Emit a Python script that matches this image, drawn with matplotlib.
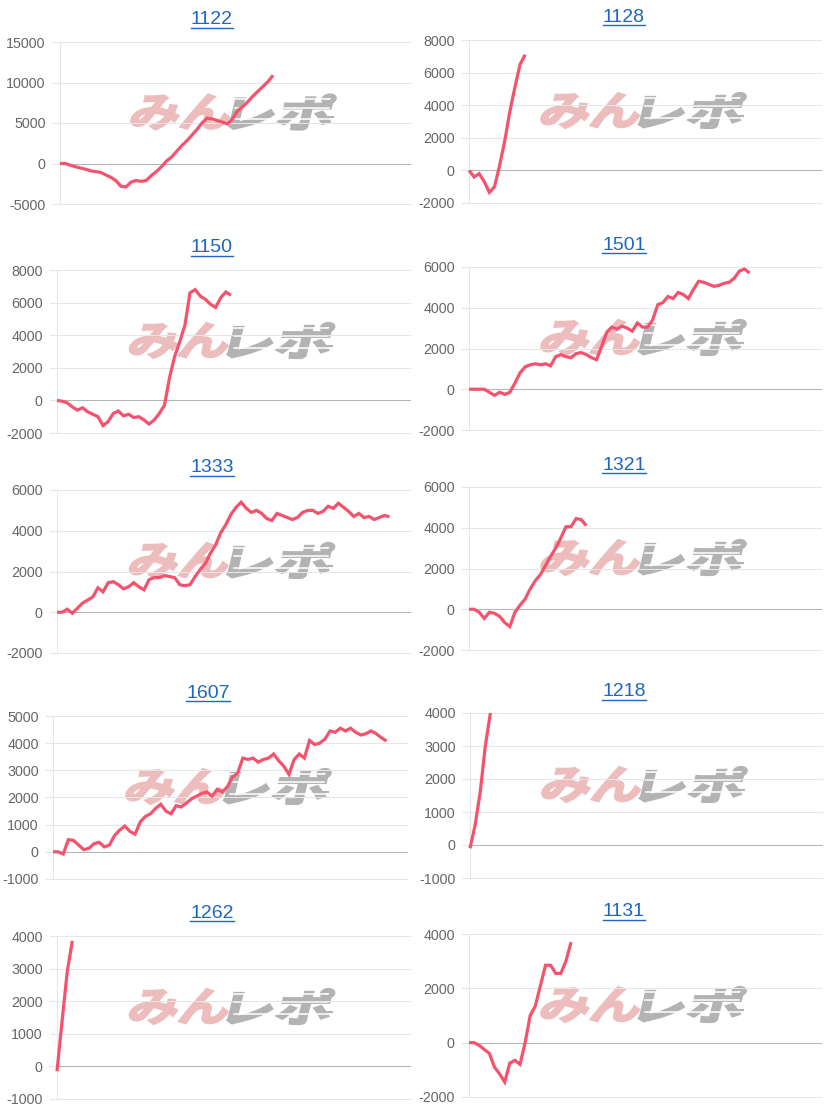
import numpy as np
import matplotlib
matplotlib.use("Agg")
import matplotlib.pyplot as plt
from matplotlib.textpath import TextPath
from matplotlib.font_manager import FontProperties
from matplotlib.patches import PathPatch
from matplotlib.transforms import Affine2D, IdentityTransform
from matplotlib.lines import Line2D

W, H = 824, 1115
N_SLOTS = 70   # shared x axis (category slots), every chart uses the same width

# ── Data (balance per slot) ──────────────────────────────────────────────────
titles = ['1122', '1128', '1150', '1501', '1333', '1321', '1607', '1218', '1262', '1131']

s1122 = [0, 0, -200, -400, -550, -700, -900, -1000, -1100, -1400,
         -1700, -2100, -2800, -2900, -2300, -2100, -2200, -2100, -1500, -1000,
         -400, 300, 800, 1500, 2200, 2800, 3500, 4200, 5000, 5600,
         5500, 5300, 5100, 4900, 5500, 6500, 7000, 7600, 8300, 8900,
         9500, 10100, 10900]
s1128 = [0, -400, -200, -700, -1350, -1000, 300, 1800, 3600, 5100, 6500, 7100]
s1150 = [0, -50, -150, -400, -600, -450, -700, -850, -1000, -1550,
         -1300, -800, -650, -950, -850, -1050, -1000, -1200, -1450, -1200,
         -800, -300, 1400, 2700, 3600, 4600, 6600, 6800, 6400, 6200,
         5900, 5700, 6300, 6650, 6450]
s1501 = [0, 0, 0, 0, -150, -300, -150, -250, -150, 300,
         800, 1100, 1200, 1250, 1200, 1250, 1150, 1600, 1700, 1600,
         1550, 1750, 1800, 1700, 1550, 1450, 2100, 2800, 3050, 2950,
         3100, 3000, 2850, 3250, 3050, 3050, 3400, 4150, 4250, 4550,
         4450, 4750, 4650, 4450, 4900, 5300, 5250, 5150, 5050, 5100,
         5200, 5250, 5450, 5800, 5900, 5700]
s1333 = [0, 0, 150, -50, 200, 450, 600, 750, 1200, 1000,
         1450, 1500, 1350, 1150, 1250, 1450, 1250, 1100, 1600, 1700,
         1700, 1800, 1750, 1700, 1350, 1300, 1350, 1750, 2100, 2400,
         2900, 3300, 3900, 4300, 4800, 5150, 5400, 5100, 4900, 5000,
         4850, 4600, 4500, 4850, 4750, 4650, 4550, 4650, 4900, 5000,
         5000, 4850, 4950, 5200, 5100, 5350, 5150, 4950, 4700, 4850,
         4650, 4700, 4550, 4650, 4750, 4680]
s1321 = [0, 0, -150, -450, -150, -200, -350, -650, -850, -150,
         200, 500, 1000, 1400, 1700, 2150, 2600, 3000, 3500, 4050,
         4050, 4450, 4400, 4100]
s1607 = [0, 0, -80, 450, 420, 250, 80, 130, 300, 350,
         180, 250, 600, 800, 950, 750, 650, 1100, 1300, 1400,
         1600, 1750, 1500, 1400, 1700, 1650, 1800, 1950, 2050, 2150,
         2200, 2050, 2300, 2200, 2400, 2750, 2900, 3450, 3400, 3450,
         3300, 3400, 3450, 3600, 3350, 3150, 2850, 3400, 3600, 3450,
         4100, 3950, 4000, 4150, 4450, 4400, 4550, 4450, 4550, 4400,
         4300, 4350, 4450, 4350, 4200, 4080]
s1218 = [-100, 600, 1600, 3000, 4000]
s1262 = [-150, 1400, 2900, 3850]
s1131 = [0, 0, -100, -250, -400, -900, -1150, -1450, -750, -650,
         -800, 0, 1000, 1350, 2100, 2850, 2850, 2550, 2550, 3000, 3700]

series = [s1122, s1128, s1150, s1501, s1333, s1321, s1607, s1218, s1262, s1131]

# y axis: (min, max, step)
y_ranges = [(-5000, 15000, 5000), (-2000, 8000, 2000), (-2000, 8000, 2000),
            (-2000, 6000, 2000), (-2000, 6000, 2000), (-2000, 6000, 2000),
            (-1000, 5000, 1000), (-1000, 4000, 1000), (-1000, 4000, 1000),
            (-2000, 4000, 2000)]

# ── Layout in pixels: left, top, right, bottom of each plot area ────────────
boxes = [(60, 42, 410, 204), (469, 40, 821, 203),
         (57, 270, 410, 433), (469, 267, 821, 430),
         (57, 490, 410, 653), (469, 487, 821, 650),
         (53, 716, 407, 879), (470, 713, 822, 878),
         (57, 936, 410, 1099), (469, 934, 821, 1097)]
title_xy = [(212, 20), (624, 17), (212, 248), (624, 245), (212, 468),
            (624, 465), (208, 693), (624, 692), (212, 913), (624, 912)]

LINE_C = '#f4526d'
GRID_C = '#e6e6e6'
ZERO_C = '#b4b4b4'
TICK_C = '#666666'
LINK_C = '#1f66be'
FONT = 'Liberation Sans'

fig = plt.figure(figsize=(W / 100, H / 100), dpi=100)
fig.patch.set_facecolor('white')

wm_font = FontProperties(family='Noto Sans CJK JP', weight='bold')


def watermark(ax, cx, cy):
    # cx, cy in image pixels (top-left origin); drawn under grid and line
    parts = [('みん', '#edbcbc', -100, -3), ('レポ', '#b3b3b3', -1, 99)]
    hgt = 35
    base = H - cy - hgt / 2
    for txt, col, x0, x1 in parts:
        tp = TextPath((0, 0), txt, size=100, prop=wm_font)
        ext = tp.get_extents()
        tr = (Affine2D().translate(-ext.x0, -ext.y0)
              .scale((x1 - x0) / ext.width, hgt / ext.height)
              .skew_deg(14, 0)
              .translate(cx + x0 - 4, base))
        ax.add_patch(PathPatch(tr.transform_path(tp), facecolor=col, edgecolor=col,
                               lw=1.6, transform=IdentityTransform(),
                               zorder=0.3, clip_on=False))
    # speed stripes through the grey half of the logo
    for frac, ext_r in ((0.30, 4), (0.62, 0), (0.86, 6)):
        yy = base + hgt * frac
        ax.add_artist(Line2D([cx + 2, cx + 96], [yy, yy], color='white', lw=1.1,
                             transform=IdentityTransform(), zorder=0.4, clip_on=False))
        ax.add_artist(Line2D([cx + 96, cx + 96 + ext_r], [yy + 2, yy + 2], color='#b3b3b3',
                             lw=1.5, transform=IdentityTransform(), zorder=0.4, clip_on=False))


title_texts = []
for i, vals in enumerate(series):
    l, t, r, b = boxes[i]
    ax = fig.add_axes([l / W, 1 - b / H, (r - l) / W, (b - t) / H])
    lo, hi, step = y_ranges[i]
    ax.set_xlim(0, N_SLOTS - 1)
    ax.set_ylim(lo, hi)
    ticks = np.arange(lo, hi + 1, step)
    ax.set_yticks(ticks)
    ax.set_yticklabels([str(v) for v in ticks], family=FONT)
    ax.set_xticks([])
    for side in ('top', 'right', 'bottom'):
        ax.spines[side].set_visible(False)
    ax.spines['left'].set_color(GRID_C)
    ax.spines['left'].set_linewidth(0.75)
    ax.tick_params(axis='y', length=6, width=0.75, color=GRID_C, pad=4.3,
                   labelsize=10.3, labelcolor=TICK_C)
    for v in ticks:
        ax.axhline(v, color=ZERO_C if v == 0 else GRID_C, lw=0.75,
                   zorder=0.5, clip_on=False)

    watermark(ax, (l + r) / 2 - 2, (t + b) / 2 - 11)

    ax.plot(np.arange(len(vals)), vals, color=LINE_C, lw=2.3,
            solid_joinstyle='miter', solid_capstyle='butt', zorder=3, clip_on=False)

    tx, ty = title_xy[i]
    txt = fig.text(tx / W, 1 - ty / H, titles[i], ha='center', va='center',
                   fontsize=14, color=LINK_C, family=FONT)
    title_texts.append((txt, ty))

# underline the link-style titles
fig.canvas.draw()
for txt, ty in title_texts:
    bb = txt.get_window_extent()
    uy = 1 - (ty + 8) / H
    fig.add_artist(Line2D([bb.x0 / W, bb.x1 / W], [uy, uy], color=LINK_C, lw=1.0))

fig.savefig('out.png', dpi=100, facecolor='white')
